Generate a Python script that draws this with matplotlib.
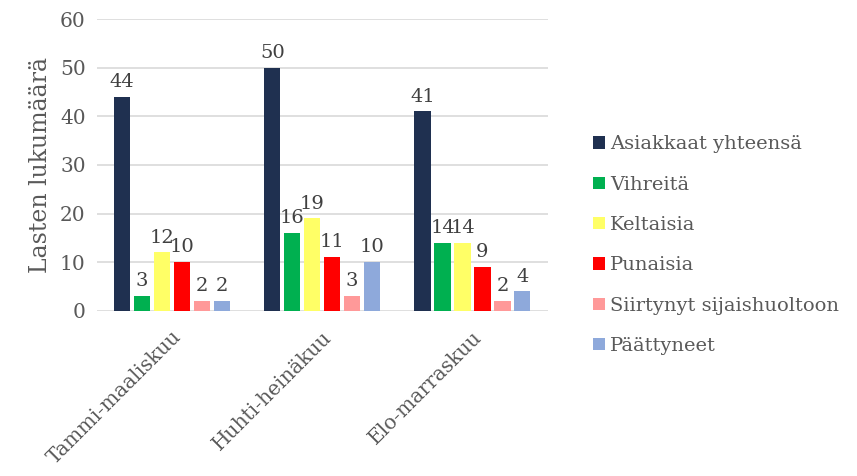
import numpy as np
import matplotlib
matplotlib.use("Agg")
import matplotlib.pyplot as plt
from matplotlib.patches import Patch

categories = ["Tammi-maaliskuu", "Huhti-heinäkuu", "Elo-marraskuu"]
series_names = ["Asiakkaat yhteensä", "Vihreitä", "Keltaisia", "Punaisia",
                "Siirtynyt sijaishuoltoon", "Päättyneet"]
values = [
    [44, 50, 41],   # Asiakkaat yhteensä
    [3, 16, 14],    # Vihreitä
    [12, 19, 14],   # Keltaisia
    [10, 11, 9],    # Punaisia
    [2, 3, 2],      # Siirtynyt sijaishuoltoon
    [2, 10, 4],     # Päättyneet
]
colors = ["#1F3050", "#00B050", "#FFFF66", "#FF0000", "#FF9999", "#8EA9DB"]
y_ticks = [0, 10, 20, 30, 40, 50, 60]

plt.rcParams['font.family'] = ['DejaVu Serif']
text_color = "#595959"

fig = plt.figure(figsize=(8.57, 4.76), dpi=100)
ax = fig.add_axes([0.113, 0.347, 0.526, 0.613])

x = np.arange(len(categories))
step = 0.133
width = 0.107
for i, (name, vals) in enumerate(zip(series_names, values)):
    pos = x + (i - 2.5) * step
    bars = ax.bar(pos, vals, width, color=colors[i], zorder=3)
    for b, v in zip(bars, vals):
        ax.text(b.get_x() + b.get_width() / 2, v + 1.2, str(v),
                ha="center", va="bottom", fontsize=14, color="#404040")

ax.set_xlim(-0.5, len(categories) - 0.5)
ax.set_ylim(0, 60)
ax.set_yticks(y_ticks)
ax.yaxis.grid(True, color="#D9D9D9", linewidth=1.2, zorder=0)
ax.set_axisbelow(True)
for s in ["top", "right", "left", "bottom"]:
    ax.spines[s].set_visible(False)
ax.tick_params(axis="y", length=0, labelsize=14.5, colors=text_color, pad=8)
ax.tick_params(axis="x", length=0, colors=text_color, pad=12)
ax.set_xticks(x)
ax.set_xticklabels(categories, rotation=45, ha="right", rotation_mode="anchor",
                   fontsize=14.5, color=text_color)
ax.set_ylabel("Lasten lukumäärä", fontsize=17, color=text_color, labelpad=6)

handles = [Patch(facecolor=c, label=n) for c, n in zip(colors, series_names)]
fig.legend(handles=handles, loc="center left", bbox_to_anchor=(0.672, 0.485),
           frameon=False, fontsize=14, labelcolor=text_color,
           handlelength=0.6, handleheight=0.6, handletextpad=0.25,
           labelspacing=1.15)

fig.savefig("out.png", dpi=100)
